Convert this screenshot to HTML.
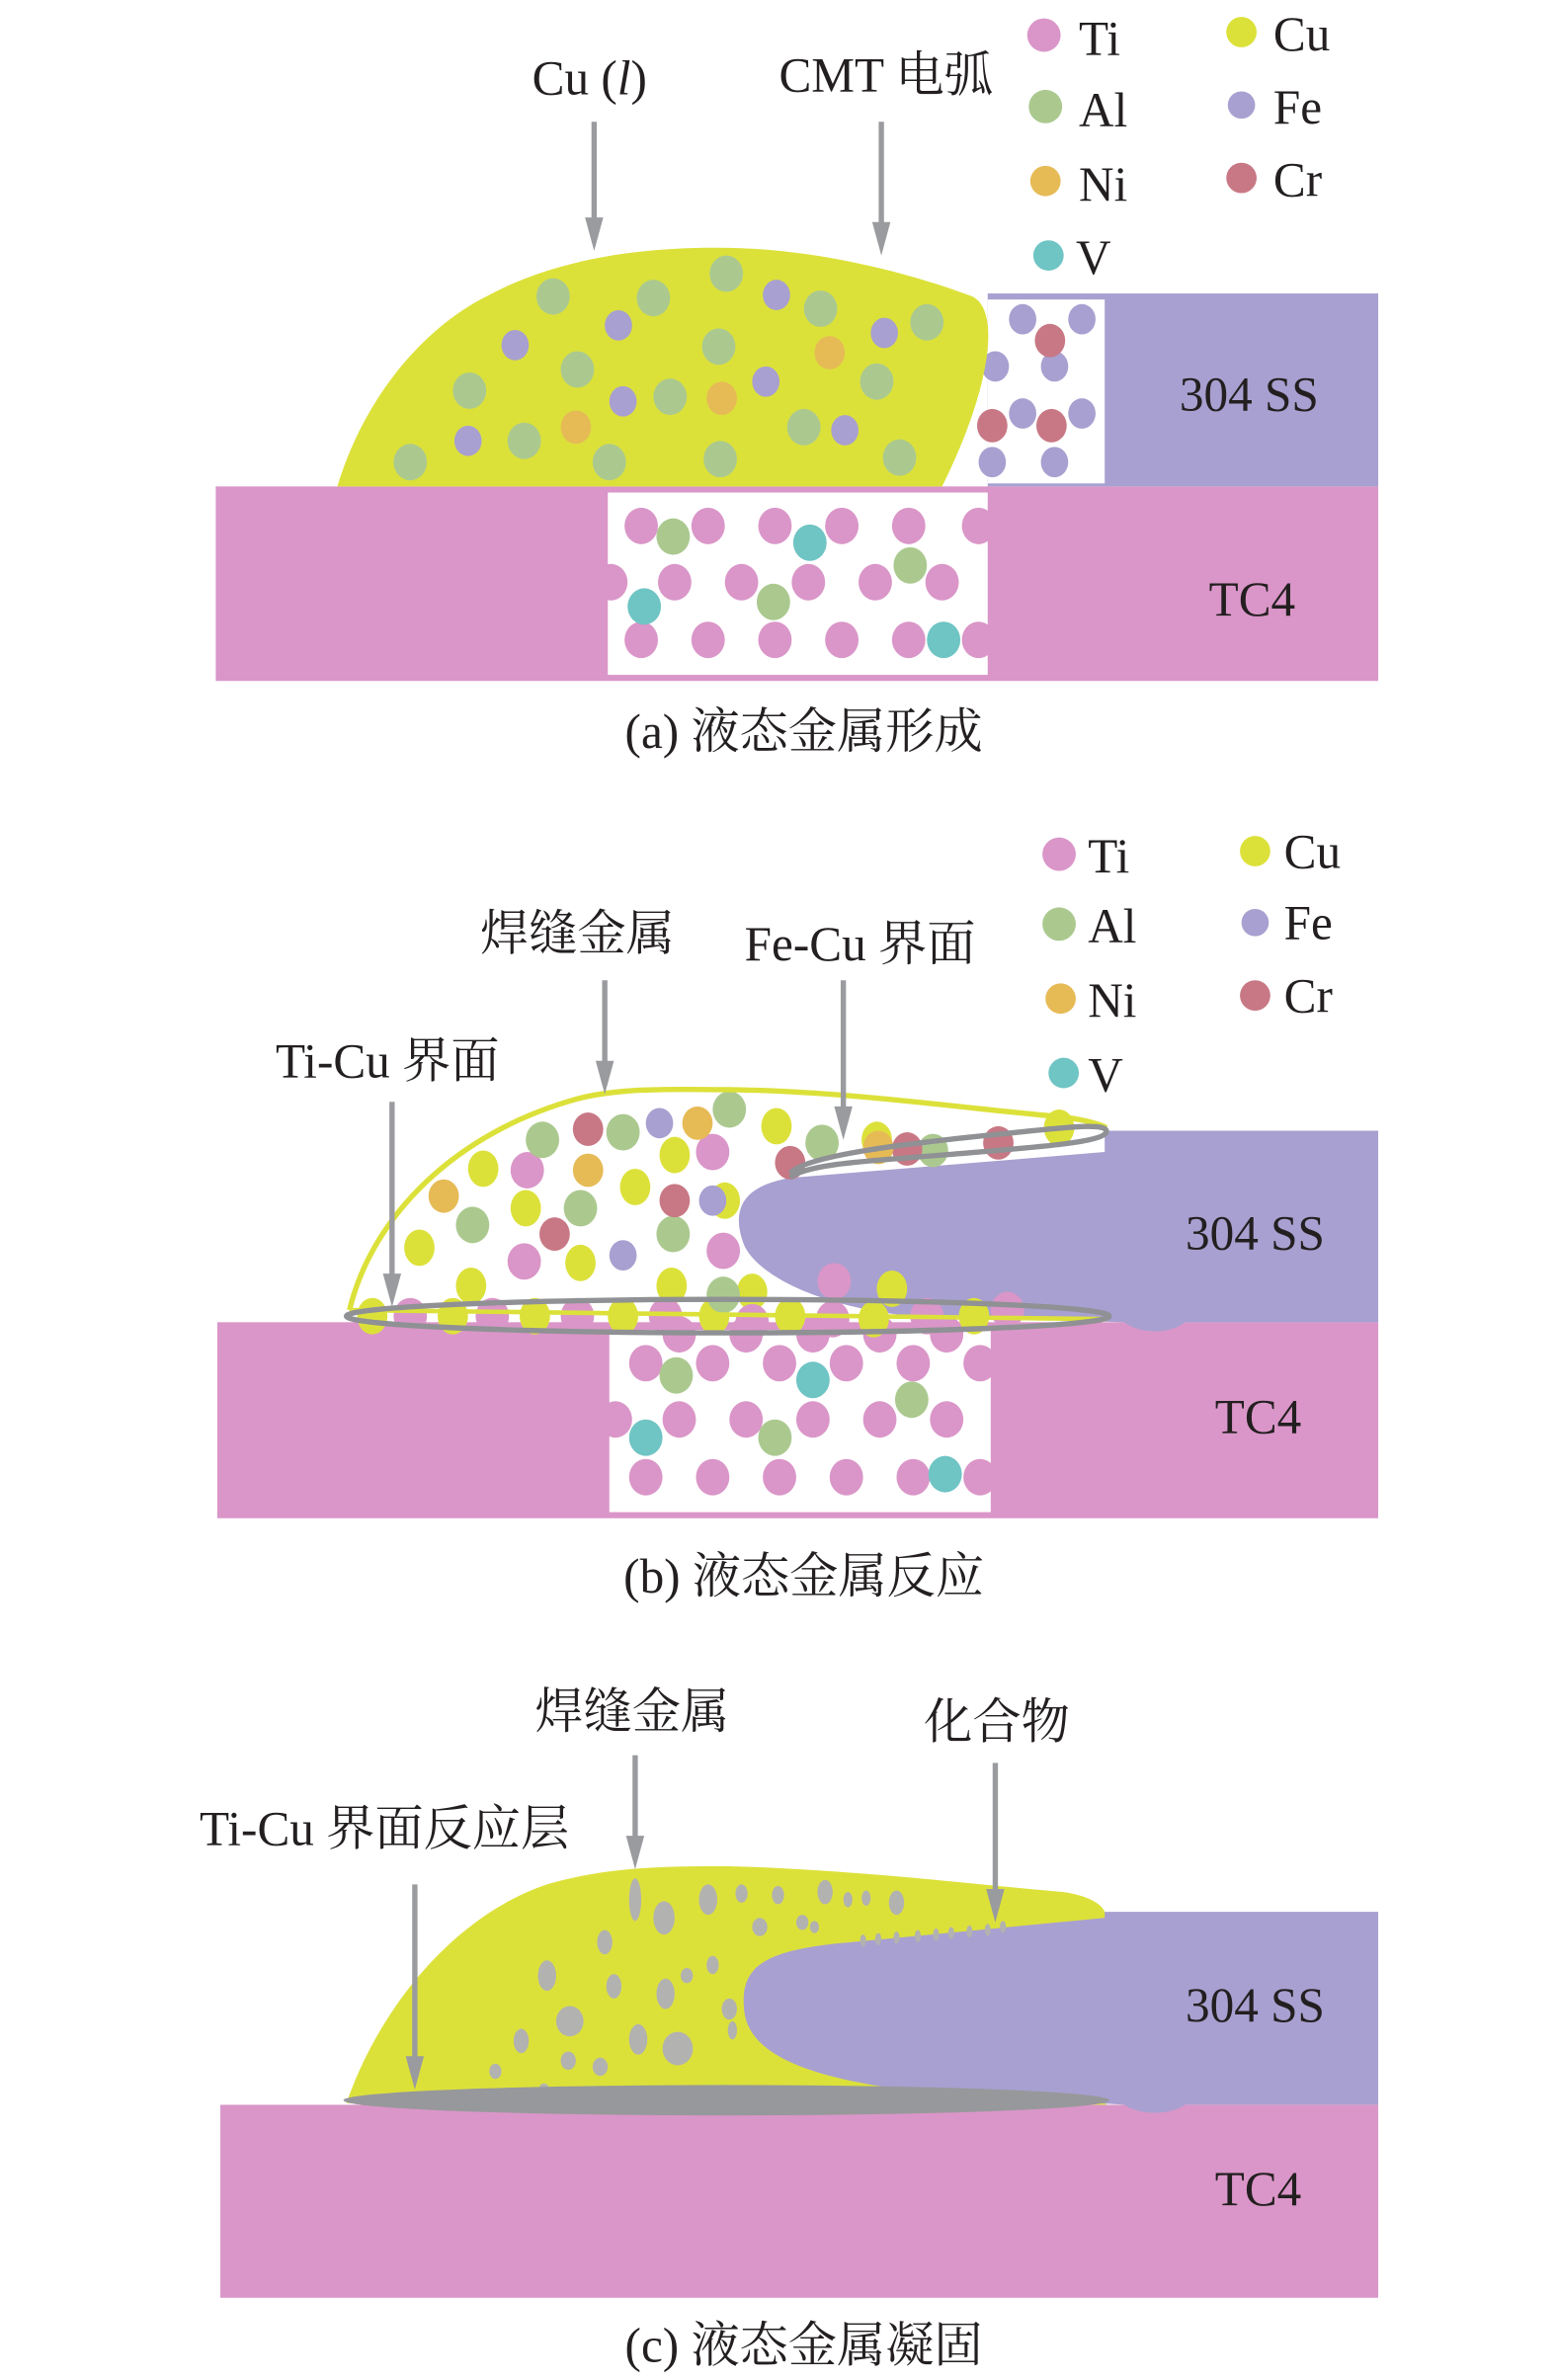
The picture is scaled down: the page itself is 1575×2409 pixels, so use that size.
<!DOCTYPE html>
<html><head><meta charset="utf-8"><style>
html,body{margin:0;padding:0;background:#fff;}
svg{display:block;}
text{font-family:"Liberation Serif","Noto Serif CJK SC",serif;fill:#231f20;}
</style></head><body>
<svg width="1575" height="2409" viewBox="0 0 1024 1566" xmlns="http://www.w3.org/2000/svg">

<!-- PANEL A -->
<rect x="142" y="320" width="765" height="128" fill="#da96c8"/>
<rect x="400" y="324" width="250" height="120" fill="#fff"/>
<rect x="650" y="193" width="257" height="127" fill="#a8a0d0"/>
<rect x="650" y="197" width="77" height="121" fill="#fff"/>
<g fill="#a8a0d0"><ellipse cx="673" cy="210" rx="9" ry="10"/><ellipse cx="712" cy="210" rx="9" ry="10"/><ellipse cx="655" cy="241" rx="9" ry="10"/><ellipse cx="694" cy="241" rx="9" ry="10"/><ellipse cx="673" cy="272" rx="9" ry="10"/><ellipse cx="712" cy="272" rx="9" ry="10"/><ellipse cx="653" cy="304" rx="9" ry="10"/><ellipse cx="694" cy="304" rx="9" ry="10"/></g>
<g fill="#c87884"><ellipse cx="691" cy="224" rx="10" ry="11"/><ellipse cx="653" cy="280" rx="10" ry="11"/><ellipse cx="692" cy="280" rx="10" ry="11"/></g>
<path d="M222,320 C240,260 280,215 320,195 C370,168 430,162 480,163 C540,164 600,180 640,195 C660,205 650,260 620,320 Z" fill="#dce13a"/>
<g fill="#abc98f"><ellipse cx="364" cy="195" rx="11" ry="12"/><ellipse cx="430" cy="196" rx="11" ry="12"/><ellipse cx="478" cy="180" rx="11" ry="12"/><ellipse cx="540" cy="203" rx="11" ry="12"/><ellipse cx="610" cy="212" rx="11" ry="12"/><ellipse cx="380" cy="243" rx="11" ry="12"/><ellipse cx="473" cy="228" rx="11" ry="12"/><ellipse cx="441" cy="261" rx="11" ry="12"/><ellipse cx="309" cy="257" rx="11" ry="12"/><ellipse cx="577" cy="251" rx="11" ry="12"/><ellipse cx="345" cy="290" rx="11" ry="12"/><ellipse cx="270" cy="304" rx="11" ry="12"/><ellipse cx="401" cy="304" rx="11" ry="12"/><ellipse cx="474" cy="302" rx="11" ry="12"/><ellipse cx="529" cy="281" rx="11" ry="12"/><ellipse cx="592" cy="301" rx="11" ry="12"/></g>
<g fill="#a8a0d0"><ellipse cx="407" cy="214" rx="9" ry="10"/><ellipse cx="339" cy="227" rx="9" ry="10"/><ellipse cx="511" cy="194" rx="9" ry="10"/><ellipse cx="582" cy="219" rx="9" ry="10"/><ellipse cx="410" cy="264" rx="9" ry="10"/><ellipse cx="504" cy="251" rx="9" ry="10"/><ellipse cx="308" cy="290" rx="9" ry="10"/><ellipse cx="556" cy="283" rx="9" ry="10"/></g>
<g fill="#e6bb56"><ellipse cx="546" cy="232" rx="10" ry="11"/><ellipse cx="475" cy="262" rx="10" ry="11"/><ellipse cx="379" cy="281" rx="10" ry="11"/></g>
<g fill="#da96c8">
<ellipse cx="422" cy="346" rx="11" ry="12"/><ellipse cx="466" cy="346" rx="11" ry="12"/><ellipse cx="510" cy="346" rx="11" ry="12"/><ellipse cx="554" cy="346" rx="11" ry="12"/><ellipse cx="598" cy="346" rx="11" ry="12"/><ellipse cx="644" cy="346" rx="11" ry="12"/>
<ellipse cx="402" cy="383" rx="11" ry="12"/><ellipse cx="444" cy="383" rx="11" ry="12"/><ellipse cx="488" cy="383" rx="11" ry="12"/><ellipse cx="532" cy="383" rx="11" ry="12"/><ellipse cx="576" cy="383" rx="11" ry="12"/><ellipse cx="620" cy="383" rx="11" ry="12"/>
<ellipse cx="422" cy="421" rx="11" ry="12"/><ellipse cx="466" cy="421" rx="11" ry="12"/><ellipse cx="510" cy="421" rx="11" ry="12"/><ellipse cx="554" cy="421" rx="11" ry="12"/><ellipse cx="598" cy="421" rx="11" ry="12"/><ellipse cx="644" cy="421" rx="11" ry="12"/></g>
<g fill="#abc98f"><ellipse cx="443" cy="353" rx="11" ry="12"/><ellipse cx="599" cy="372" rx="11" ry="12"/><ellipse cx="509" cy="396" rx="11" ry="12"/></g>
<g fill="#6fc4c4"><ellipse cx="533" cy="357" rx="11" ry="12"/><ellipse cx="424" cy="399" rx="11" ry="12"/><ellipse cx="621" cy="421" rx="11" ry="12"/></g>
<text x="388" y="62" font-size="32" text-anchor="middle">Cu (<tspan font-style="italic">l</tspan>)</text>
<text x="583" y="60" font-size="32" text-anchor="middle">CMT 电弧</text>
<text x="822" y="270" font-size="32" text-anchor="middle">304 SS</text>
<text x="824" y="405" font-size="32" text-anchor="middle">TC4</text>
<text x="529" y="492" font-size="32" text-anchor="middle">(a) 液态金属形成</text>
<g font-size="32">
<circle cx="687" cy="23" r="11" fill="#da96c8"/><text x="710" y="36">Ti</text>
<circle cx="688" cy="70" r="11" fill="#abc98f"/><text x="710" y="83">Al</text>
<circle cx="688" cy="119" r="10" fill="#e6bb56"/><text x="710" y="132">Ni</text>
<circle cx="690" cy="168" r="10" fill="#6fc4c4"/><text x="708" y="180">V</text>
<circle cx="817" cy="21" r="10" fill="#dce13a"/><text x="838" y="33">Cu</text>
<circle cx="817" cy="69" r="9" fill="#a8a0d0"/><text x="838" y="81">Fe</text>
<circle cx="817" cy="117" r="10" fill="#c87884"/><text x="838" y="129">Cr</text>
</g>

<!-- PANEL B -->
<rect x="143" y="870" width="764" height="129" fill="#da96c8"/>
<rect x="401" y="875" width="251" height="120" fill="#fff"/>
<g fill="#da96c8">
<ellipse cx="425" cy="897" rx="11" ry="12"/><ellipse cx="469" cy="897" rx="11" ry="12"/><ellipse cx="513" cy="897" rx="11" ry="12"/><ellipse cx="557" cy="897" rx="11" ry="12"/><ellipse cx="601" cy="897" rx="11" ry="12"/><ellipse cx="645" cy="897" rx="11" ry="12"/>
<ellipse cx="405" cy="934" rx="11" ry="12"/><ellipse cx="447" cy="934" rx="11" ry="12"/><ellipse cx="491" cy="934" rx="11" ry="12"/><ellipse cx="535" cy="934" rx="11" ry="12"/><ellipse cx="579" cy="934" rx="11" ry="12"/><ellipse cx="623" cy="934" rx="11" ry="12"/>
<ellipse cx="425" cy="972" rx="11" ry="12"/><ellipse cx="469" cy="972" rx="11" ry="12"/><ellipse cx="513" cy="972" rx="11" ry="12"/><ellipse cx="557" cy="972" rx="11" ry="12"/><ellipse cx="601" cy="972" rx="11" ry="12"/><ellipse cx="645" cy="972" rx="11" ry="12"/>
<ellipse cx="447" cy="878" rx="11" ry="12"/><ellipse cx="491" cy="878" rx="11" ry="12"/><ellipse cx="535" cy="878" rx="11" ry="12"/><ellipse cx="579" cy="878" rx="11" ry="12"/><ellipse cx="623" cy="878" rx="11" ry="12"/></g>
<g fill="#abc98f"><ellipse cx="445" cy="905" rx="11" ry="12"/><ellipse cx="600" cy="921" rx="11" ry="12"/><ellipse cx="510" cy="946" rx="11" ry="12"/></g>
<g fill="#6fc4c4"><ellipse cx="535" cy="908" rx="11" ry="12"/><ellipse cx="425" cy="946" rx="11" ry="12"/><ellipse cx="622" cy="970" rx="11" ry="12"/></g>
<path d="M727,744 L907,744 L907,870 L780,870 C770,878 750,878 740,870 L600,866 C540,860 500,840 490,820 C480,795 490,780 520,775 L727,758 Z" fill="#a8a0d0"/>
<g fill="#dce13a">
<ellipse cx="511" cy="741" rx="10" ry="12"/><ellipse cx="444" cy="760" rx="10" ry="12"/><ellipse cx="418" cy="781" rx="10" ry="12"/><ellipse cx="318" cy="769" rx="10" ry="12"/><ellipse cx="346" cy="795" rx="10" ry="12"/><ellipse cx="382" cy="831" rx="10" ry="12"/><ellipse cx="276" cy="821" rx="10" ry="12"/><ellipse cx="310" cy="846" rx="10" ry="12"/><ellipse cx="442" cy="846" rx="10" ry="12"/><ellipse cx="477" cy="790" rx="10" ry="12"/><ellipse cx="577" cy="750" rx="10" ry="12"/><ellipse cx="697" cy="742" rx="10" ry="12"/><ellipse cx="587" cy="848" rx="10" ry="12"/><ellipse cx="495" cy="850" rx="10" ry="12"/>
<ellipse cx="245" cy="866" rx="10" ry="12"/><ellipse cx="298" cy="866" rx="10" ry="12"/><ellipse cx="352" cy="866" rx="10" ry="12"/><ellipse cx="410" cy="866" rx="10" ry="12"/><ellipse cx="470" cy="866" rx="10" ry="12"/><ellipse cx="520" cy="866" rx="10" ry="12"/><ellipse cx="575" cy="868" rx="10" ry="12"/><ellipse cx="641" cy="866" rx="10" ry="12"/></g>
<g fill="#da96c8">
<ellipse cx="347" cy="770" rx="11" ry="12"/><ellipse cx="345" cy="830" rx="11" ry="12"/><ellipse cx="476" cy="823" rx="11" ry="12"/><ellipse cx="469" cy="758" rx="11" ry="12"/><ellipse cx="549" cy="843" rx="11" ry="12"/>
<ellipse cx="270" cy="866" rx="11" ry="12"/><ellipse cx="324" cy="866" rx="11" ry="12"/><ellipse cx="380" cy="866" rx="11" ry="12"/><ellipse cx="438" cy="866" rx="11" ry="12"/><ellipse cx="495" cy="870" rx="11" ry="12"/><ellipse cx="548" cy="868" rx="11" ry="12"/><ellipse cx="610" cy="866" rx="11" ry="12"/><ellipse cx="663" cy="862" rx="11" ry="12"/></g>
<g fill="#abc98f"><ellipse cx="357" cy="750" rx="11" ry="12"/><ellipse cx="410" cy="745" rx="11" ry="12"/><ellipse cx="480" cy="730" rx="11" ry="12"/><ellipse cx="382" cy="795" rx="11" ry="12"/><ellipse cx="311" cy="806" rx="11" ry="12"/><ellipse cx="443" cy="812" rx="11" ry="12"/><ellipse cx="541" cy="752" rx="11" ry="12"/><ellipse cx="614" cy="757" rx="10" ry="11"/><ellipse cx="476" cy="852" rx="11" ry="12"/></g>
<g fill="#c87884"><ellipse cx="387" cy="743" rx="10" ry="11"/><ellipse cx="444" cy="790" rx="10" ry="11"/><ellipse cx="365" cy="812" rx="10" ry="11"/><ellipse cx="520" cy="765" rx="10" ry="11"/><ellipse cx="597" cy="756" rx="10" ry="11"/><ellipse cx="657" cy="752" rx="10" ry="11"/></g>
<g fill="#e6bb56"><ellipse cx="459" cy="739" rx="10" ry="11"/><ellipse cx="387" cy="770" rx="10" ry="11"/><ellipse cx="292" cy="787" rx="10" ry="11"/><ellipse cx="578" cy="755" rx="10" ry="11"/></g>
<g fill="#a8a0d0"><ellipse cx="434" cy="739" rx="9" ry="10"/><ellipse cx="469" cy="790" rx="9" ry="10"/><ellipse cx="410" cy="826" rx="9" ry="10"/></g>
<path d="M230,862 C245,800 300,745 380,723 C410,715 450,717 480,717 C560,718 640,730 700,735 C715,737 725,740 728,742" fill="none" stroke="#dce13a" stroke-width="3.5"/>
<path d="M230,862 L728,868" fill="none" stroke="#dce13a" stroke-width="3"/>
<ellipse cx="479" cy="866" rx="251" ry="11" fill="none" stroke="#8f9194" stroke-width="3.5"/>
<path d="M520,772 C530,760 600,752 660,746 C700,742 730,738 728,745 C725,752 680,755 620,760 C570,764 530,766 520,775" fill="none" stroke="#8f9194" stroke-width="3.5"/>
<text x="380" y="625" font-size="32" text-anchor="middle">焊缝金属</text>
<text x="566" y="632" font-size="32" text-anchor="middle">Fe-Cu 界面</text>
<text x="255" y="709" font-size="32" text-anchor="middle">Ti-Cu 界面</text>
<text x="826" y="822" font-size="32" text-anchor="middle">304 SS</text>
<text x="828" y="943" font-size="32" text-anchor="middle">TC4</text>
<text x="529" y="1048" font-size="32" text-anchor="middle">(b) 液态金属反应</text>
<g font-size="32">
<circle cx="697" cy="562" r="11" fill="#da96c8"/><text x="716" y="574">Ti</text>
<circle cx="697" cy="608" r="11" fill="#abc98f"/><text x="716" y="620">Al</text>
<circle cx="698" cy="657" r="10" fill="#e6bb56"/><text x="716" y="669">Ni</text>
<circle cx="700" cy="706" r="10" fill="#6fc4c4"/><text x="716" y="718">V</text>
<circle cx="826" cy="560" r="10" fill="#dce13a"/><text x="845" y="571">Cu</text>
<circle cx="826" cy="607" r="9" fill="#a8a0d0"/><text x="845" y="618">Fe</text>
<circle cx="826" cy="655" r="10" fill="#c87884"/><text x="845" y="666">Cr</text>
</g>

<!-- PANEL C -->
<rect x="145" y="1385" width="762" height="127" fill="#da96c8"/>
<path d="M228,1384 C250,1320 300,1260 360,1240 C400,1228 440,1228 480,1228 C560,1230 640,1240 700,1245 C720,1248 728,1255 728,1262 L728,1385 Z" fill="#dce13a"/>
<path d="M727,1258 L907,1258 L907,1385 L780,1385 C770,1392 750,1392 740,1385 L620,1378 C540,1370 495,1355 490,1325 C486,1295 500,1283 560,1278 L727,1262 Z" fill="#a8a0d0"/>
<g fill="#b2b2b0">
<ellipse cx="418" cy="1250" rx="4" ry="14"/><ellipse cx="437" cy="1262" rx="7" ry="11"/><ellipse cx="466" cy="1250" rx="6" ry="10"/><ellipse cx="488" cy="1246" rx="4" ry="6"/><ellipse cx="500" cy="1268" rx="5" ry="6"/><ellipse cx="512" cy="1247" rx="4" ry="6"/><ellipse cx="528" cy="1265" rx="4" ry="5"/><ellipse cx="543" cy="1245" rx="5" ry="8"/><ellipse cx="558" cy="1250" rx="3" ry="5"/><ellipse cx="570" cy="1249" rx="3" ry="5"/><ellipse cx="590" cy="1252" rx="5" ry="8"/><ellipse cx="536" cy="1268" rx="3" ry="4"/><ellipse cx="398" cy="1278" rx="5" ry="8"/><ellipse cx="360" cy="1300" rx="6" ry="10"/><ellipse cx="404" cy="1307" rx="5" ry="8"/><ellipse cx="438" cy="1312" rx="6" ry="10"/><ellipse cx="469" cy="1293" rx="4" ry="6"/><ellipse cx="452" cy="1300" rx="4" ry="5"/><ellipse cx="480" cy="1322" rx="5" ry="7"/><ellipse cx="375" cy="1330" rx="9" ry="10"/><ellipse cx="343" cy="1343" rx="5" ry="8"/><ellipse cx="420" cy="1342" rx="6" ry="10"/><ellipse cx="446" cy="1348" rx="10" ry="11"/><ellipse cx="482" cy="1336" rx="3" ry="6"/><ellipse cx="395" cy="1360" rx="5" ry="6"/><ellipse cx="326" cy="1363" rx="4" ry="5"/><ellipse cx="358" cy="1377" rx="4" ry="6"/><ellipse cx="374" cy="1356" rx="5" ry="6"/>
<ellipse cx="568" cy="1277" rx="2" ry="4"/><ellipse cx="578" cy="1276" rx="2" ry="4"/><ellipse cx="590" cy="1275" rx="2" ry="4"/><ellipse cx="604" cy="1274" rx="2" ry="4"/><ellipse cx="616" cy="1273" rx="2" ry="4"/><ellipse cx="626" cy="1272" rx="2" ry="4"/><ellipse cx="638" cy="1271" rx="2" ry="4"/><ellipse cx="650" cy="1270" rx="2" ry="4"/><ellipse cx="660" cy="1268" rx="2" ry="4"/></g>
<ellipse cx="478" cy="1382" rx="252" ry="10" fill="#97989b"/>
<text x="416" y="1137" font-size="32" text-anchor="middle">焊缝金属</text>
<text x="656" y="1144" font-size="32" text-anchor="middle">化合物</text>
<text x="253" y="1214" font-size="32" text-anchor="middle">Ti-Cu 界面反应层</text>
<text x="826" y="1330" font-size="32" text-anchor="middle">304 SS</text>
<text x="828" y="1451" font-size="32" text-anchor="middle">TC4</text>
<text x="529" y="1554" font-size="32" text-anchor="middle">(c) 液态金属凝固</text>

<!-- ARROWS (on top) -->
<g stroke="#9a9b9e" stroke-width="3.5" fill="none">
<line x1="391" y1="80" x2="391" y2="145"/><line x1="580" y1="80" x2="580" y2="148"/>
<line x1="398" y1="645" x2="398" y2="700"/><line x1="555" y1="645" x2="555" y2="730"/><line x1="258" y1="725" x2="258" y2="840"/>
<line x1="418" y1="1155" x2="418" y2="1210"/><line x1="655" y1="1160" x2="655" y2="1245"/><line x1="273" y1="1240" x2="273" y2="1355"/>
</g>
<g fill="#9a9b9e">
<path d="M385,143 L397,143 L391,165Z"/><path d="M574,146 L586,146 L580,168Z"/>
<path d="M392,698 L404,698 L398,720Z"/><path d="M549,728 L561,728 L555,750Z"/><path d="M252,838 L264,838 L258,860Z"/>
<path d="M412,1208 L424,1208 L418,1230Z"/><path d="M649,1243 L661,1243 L655,1265Z"/><path d="M267,1353 L279,1353 L273,1375Z"/>
</g>
</svg>
</body></html>
